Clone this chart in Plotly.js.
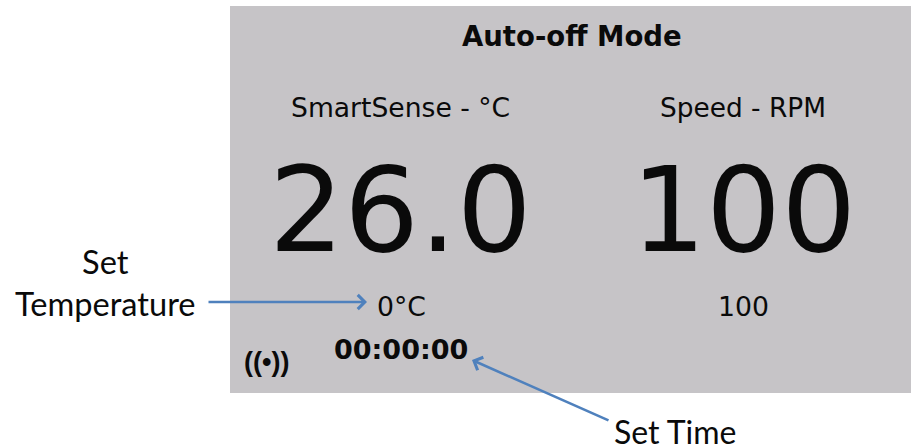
<!DOCTYPE html>
<html><head><meta charset="utf-8">
<script src="https://cdn.plot.ly/plotly-3.0.1.min.js"></script>
<style>html,body{margin:0;padding:0;background:#fff}</style></head>
<body><div id="chart" style="width:911px;height:447px"></div>
<script>
const panelTitle = "Auto-off Mode";
const channelNames = ["SmartSense - °C", "Speed - RPM"];
const channelValues = ["26.0", "100"];
const channelSetpoints = ["0°C", "100"];
const timerText = "00:00:00";
const statusIcon = "((•))";
const calloutLabels = ["Set<br>Temperature", "Set Time"];

const panelFont = "DejaVu Sans";
const calloutFont = "Lato";
const blue = "#4f81bd";

function txt(x, y, text, size, bold, family, extra) {
  return Object.assign({
    xref:"x", yref:"y", x:x, y:y, text: bold ? "<b>"+text+"</b>" : text,
    showarrow:false, xanchor:"center", yanchor:"middle",
    font:{family:family||panelFont, size:size, color:"#0a0a0a"}
  }, extra||{});
}
function arrow(x, y, ax, ay) {
  return {xref:"x", yref:"y", axref:"x", ayref:"y", x:x, y:y, ax:ax, ay:ay, text:"",
    showarrow:true, arrowhead:4, arrowsize:1.05, arrowwidth:2.6, arrowcolor:blue, standoff:0};
}
const annotations = [
  txt(572, 36, panelTitle, 27.5, true),
  txt(400.5, 107, channelNames[0], 26.6),
  txt(743, 107, channelNames[1], 26.4),
  txt(400.5, 210, channelValues[0], 118),
  txt(743.5, 210, channelValues[1], 118),
  txt(401, 306, channelSetpoints[0], 26.7),
  txt(743.5, 306, channelSetpoints[1], 26.7),
  txt(401, 349, timerText, 27, true),
  txt(266, 362, statusIcon, 27, true, "Liberation Sans"),
  txt(105, 282, calloutLabels[0], 32.6, false, calloutFont, {align:"center"}),
  txt(675, 431, calloutLabels[1], 32, false, calloutFont),
  arrow(367, 302, 207, 302),
  arrow(472, 360, 610, 421)
];
Plotly.newPlot("chart", [{x:[0,911], y:[0,447], mode:"none", type:"scatter", hoverinfo:"skip", showlegend:false}], {
  width:911, height:447, margin:{l:0,r:0,t:0,b:0},
  paper_bgcolor:"#fff", plot_bgcolor:"#fff", showlegend:false,
  xaxis:{range:[0,911], visible:false, fixedrange:true},
  yaxis:{range:[447,0], visible:false, fixedrange:true},
  shapes:[{type:"rect", xref:"x", yref:"y", x0:230, x1:911, y0:6, y1:393, fillcolor:"#c6c4c7", line:{width:0}, layer:"below"}],
  annotations:annotations
}, {displayModeBar:false, staticPlot:true});
</script></body></html>
